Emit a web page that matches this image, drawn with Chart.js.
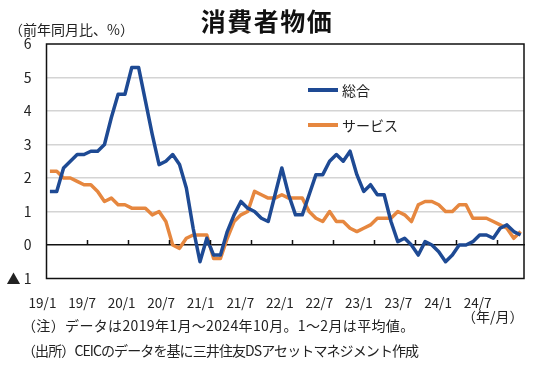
<!DOCTYPE html>
<html lang="ja">
<head>
<meta charset="utf-8">
<script src="https://cdn.jsdelivr.net/npm/chart.js@4.4.1/dist/chart.umd.min.js"></script>
<style>
  html, body { margin: 0; padding: 0; background: #fff; }
  #wrap { position: relative; width: 550px; height: 370px; font-family: "Noto Sans CJK JP", sans-serif; color: #222; }
  #wrap canvas { position: absolute; left: 0; top: 0; }
  .txt { position: absolute; white-space: nowrap; line-height: 1; }
  .title { left: 167px; width: 200px; top: 8px; text-align: center; font-size: 25px; font-weight: bold; color: #111; letter-spacing: 1.5px; }
  .unit { left: 9px; top: 22px; font-size: 14px; }
  .leg { left: 308px; font-size: 14px; display: flex; align-items: center; }
  .leg i { display: inline-block; width: 30px; height: 4px; margin-right: 4px; }
  .note { left: 22px; font-size: 14px; }
</style>
</head>
<body>
<div id="wrap">
  <canvas id="cpi" width="550" height="370"></canvas>
  <div class="txt title">消費者物価</div>
  <div class="txt unit">（前年同月比、%）</div>
  <div class="txt leg" style="top:83px"><i style="background:#1E4A94"></i>総合</div>
  <div class="txt leg" style="top:118px"><i style="background:#E6873F"></i>サービス</div>
  <div class="txt" style="left:462px; top:309px; font-size:14px;">（年/月）</div>
  <div class="txt note" style="top:318px; letter-spacing:0.35px;">（注）データは2019年1月～2024年10月。1～2月は平均値。</div>
  <div class="txt note" style="top:343px; letter-spacing:-0.9px;">（出所）CEICのデータを基に三井住友DSアセットマネジメント作成</div>
</div>
<script>
// 2019/1 .. 2024/10, monthly (Jan & Feb plotted as their average)
const months = [];
for (let y = 2019; y <= 2024; y++) {
  for (let m = 1; m <= 12; m++) {
    if (y === 2024 && m > 10) break;
    months.push(`${String(y).slice(2)}/${m}`);
  }
}

const xLabels = ['19/1', '19/7', '20/1', '20/7', '21/1', '21/7', '22/1', '22/7', '23/1', '23/7', '24/1', '24/7'];

const totalCpi = [
  1.6, 1.6, 2.3, 2.5, 2.7, 2.7, 2.8, 2.8, 3.0, 3.8, 4.5, 4.5,
  5.3, 5.3, 4.3, 3.3, 2.4, 2.5, 2.7, 2.4, 1.7, 0.5, -0.5, 0.2,
  -0.3, -0.3, 0.4, 0.9, 1.3, 1.1, 1.0, 0.8, 0.7, 1.5, 2.3, 1.5,
  0.9, 0.9, 1.5, 2.1, 2.1, 2.5, 2.7, 2.5, 2.8, 2.1, 1.6, 1.8,
  1.5, 1.5, 0.7, 0.1, 0.2, 0.0, -0.3, 0.1, 0.0, -0.2, -0.5, -0.3,
  0.0, 0.0, 0.1, 0.3, 0.3, 0.2, 0.5, 0.6, 0.4, 0.3,
];

const serviceCpi = [
  2.2, 2.2, 2.0, 2.0, 1.9, 1.8, 1.8, 1.6, 1.3, 1.4, 1.2, 1.2,
  1.1, 1.1, 1.1, 0.9, 1.0, 0.7, 0.0, -0.1, 0.2, 0.3, 0.3, 0.3,
  -0.4, -0.4, 0.2, 0.7, 0.9, 1.0, 1.6, 1.5, 1.4, 1.4, 1.5, 1.4,
  1.4, 1.4, 1.0, 0.8, 0.7, 1.0, 0.7, 0.7, 0.5, 0.4, 0.5, 0.6,
  0.8, 0.8, 0.8, 1.0, 0.9, 0.7, 1.2, 1.3, 1.3, 1.2, 1.0, 1.0,
  1.2, 1.2, 0.8, 0.8, 0.8, 0.7, 0.6, 0.5, 0.2, 0.4,
];

const FONT = '"Noto Sans CJK JP", sans-serif';

// black frame round the plot area + half-year tick marks sitting on the zero line
const frame = {
  id: 'frame',
  afterDraw(chart) {
    const { ctx, chartArea: a, scales } = chart;
    const xs = scales.x, ys = scales.y;
    ctx.save();
    ctx.strokeStyle = '#111';
    ctx.lineWidth = 1.5;
    ctx.strokeRect(a.left, a.top, a.width, a.height);
    const y0 = Math.round(ys.getPixelForValue(0));
    ctx.beginPath();
    for (let i = 6; i < months.length; i += 6) {
      const px = Math.round((xs.getPixelForValue(i - 1) + xs.getPixelForValue(i)) / 2) + 0.5;
      ctx.moveTo(px, y0);
      ctx.lineTo(px, y0 - 5);
    }
    ctx.stroke();
    ctx.restore();
  },
};

new Chart(document.getElementById('cpi'), {
  type: 'line',
  data: {
    labels: months,
    datasets: [
      { label: '総合', data: totalCpi, borderColor: '#1E4A94', borderWidth: 3.5 },
      { label: 'サービス', data: serviceCpi, borderColor: '#E6873F', borderWidth: 3.5 },
    ],
  },
  options: {
    responsive: false,
    animation: false,
    layout: { padding: { top: 44, right: 26, left: 0, bottom: 0 } },
    elements: { point: { radius: 0 }, line: { tension: 0, borderJoinStyle: 'round' } },
    plugins: { legend: { display: false }, tooltip: { enabled: false } },
    scales: {
      x: {
        type: 'category',
        position: { y: 0 },
        offset: true,
        grid: { display: false },
        border: { display: true, color: '#111', width: 1.5 },
        ticks: { display: false, autoSkip: false },
      },
      x2: {
        type: 'linear',
        position: 'bottom',
        min: 0.101,
        max: 12.174,
        grid: { display: false, drawTicks: false },
        border: { display: false },
        afterBuildTicks: s => { s.ticks = xLabels.map((_, i) => ({ value: i })); },
        afterFit: s => { s.height = 91.5; },
        ticks: {
          autoSkip: false, maxRotation: 0, padding: 16, color: '#222',
          font: { family: FONT, size: 13.5 },
          callback: (v, i) => xLabels[i],
        },
      },
      y: {
        min: -1,
        max: 6,
        afterFit: s => { s.width = 46.5; },
        grid: {
          drawTicks: false, lineWidth: 1.5,
          color: c => (c.tick.value >= 1 && c.tick.value <= 5 ? '#d4d4d4' : 'rgba(0,0,0,0)'),
        },
        border: { display: false },
        ticks: {
          stepSize: 1, padding: 15, color: '#222',
          font: { family: FONT, size: 14 },
          callback: v => (v < 0 ? '▲ ' + Math.abs(v) : v),
        },
      },
    },
  },
  plugins: [frame],
});
</script>
</body>
</html>
